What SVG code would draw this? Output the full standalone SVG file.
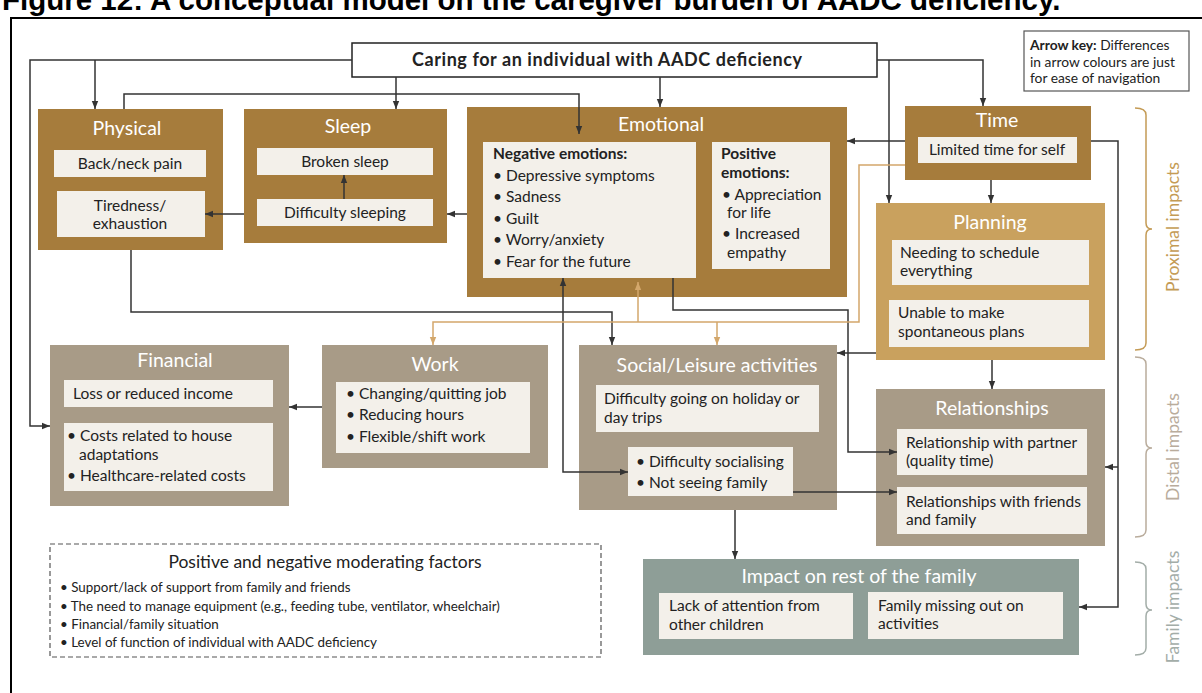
<svg xmlns="http://www.w3.org/2000/svg" width="1202" height="693" viewBox="0 0 1202 693">
<style>
text{font-family:Lato,"Noto Sans","DejaVu Sans",sans-serif}
.bg{fill:#A67C3C}
.bp{fill:#C9A15E}
.bt{fill:#A89B87}
.bf{fill:#8E9E97}
.in{fill:#F3F0EA}
.ttl{font-size:19.5px;fill:#fff;text-anchor:middle}
.tx{font-size:15.5px;fill:#222}
.cx{font-size:15.5px;fill:#222;text-anchor:middle}
.b{font-weight:700}
.c{fill:none;stroke:#333;stroke-width:1.5}
.o{fill:none;stroke:#D3A76B;stroke-width:1.5}
.mod{font-size:13.4px;fill:#222}
.key{font-size:13.8px;fill:#222}
.brace{fill:none;stroke-width:1.5}
</style>
<defs>
<marker id="a" viewBox="0 0 10 10" refX="10" refY="5" markerWidth="8" markerHeight="8" markerUnits="userSpaceOnUse" orient="auto-start-reverse"><path d="M0,1 L10,5 L0,9 z" fill="#333"/></marker>
<marker id="ao" viewBox="0 0 10 10" refX="10" refY="5" markerWidth="8" markerHeight="8" markerUnits="userSpaceOnUse" orient="auto-start-reverse"><path d="M0,1 L10,5 L0,9 z" fill="#D3A76B"/></marker>
</defs>
<rect width="1202" height="693" fill="#fff"/>
<text x="2" y="10" style="font-family:'Liberation Sans',Arial,sans-serif;font-weight:700;font-size:29.5px" fill="#000">Figure 12: A conceptual model on the caregiver burden of AADC deficiency.</text>
<path d="M11,693 V18 H1202" fill="none" stroke="#000" stroke-width="2"/>

<g id="caring">
<rect x="352" y="43" width="525" height="34" fill="#fff" stroke="#222" stroke-width="1.5"/>
<text x="607" y="66" class="b" style="font-size:18px;text-anchor:middle" fill="#222" textLength="390" lengthAdjust="spacing">Caring for an individual with AADC deficiency</text>
</g>

<g id="arrow-key">
<rect x="1024" y="31" width="165" height="60" fill="#fff" stroke="#555" stroke-width="1.2"/>
<text class="key" x="1030" y="50"><tspan class="b">Arrow key:</tspan> Differences</text>
<text class="key" x="1030" y="67">in arrow colours are just</text>
<text class="key" x="1030" y="83">for ease of navigation</text>
</g>

<g id="physical">
<rect class="bg" x="38" y="109" width="185" height="141"/>
<text class="ttl" x="127" y="135">Physical</text>
<rect class="in" x="54" y="150" width="152" height="27"/>
<text class="cx" x="130" y="169">Back/neck pain</text>
<rect class="in" x="57" y="191" width="148" height="46"/>
<text class="cx" x="130" y="211">Tiredness/</text>
<text class="cx" x="130" y="229">exhaustion</text>
</g>

<g id="sleep">
<rect class="bg" x="244" y="109" width="203" height="134"/>
<text class="ttl" x="348" y="133">Sleep</text>
<rect class="in" x="257" y="148" width="176" height="27"/>
<text class="cx" x="345" y="167">Broken sleep</text>
<rect class="in" x="257" y="199" width="176" height="27"/>
<text class="cx" x="345" y="218">Difficulty sleeping</text>
</g>

<g id="emotional">
<rect class="bg" x="467" y="107" width="380" height="190"/>
<text class="ttl" x="661" y="131">Emotional</text>
<rect class="in" x="483" y="142" width="213" height="136"/>
<text class="tx b" x="493" y="159">Negative emotions:</text>
<text class="tx" x="493" y="180.5">• Depressive symptoms</text>
<text class="tx" x="493" y="202">• Sadness</text>
<text class="tx" x="493" y="223.5">• Guilt</text>
<text class="tx" x="493" y="245">• Worry/anxiety</text>
<text class="tx" x="493" y="266.5">• Fear for the future</text>
<rect class="in" x="712" y="142" width="118" height="127"/>
<text class="tx b" x="721" y="159">Positive</text>
<text class="tx b" x="721" y="178">emotions:</text>
<text class="tx" x="722" y="200">• Appreciation</text>
<text class="tx" x="727" y="218">for life</text>
<text class="tx" x="722" y="239">• Increased</text>
<text class="tx" x="727" y="258">empathy</text>
</g>

<g id="time">
<rect class="bg" x="905" y="106" width="186" height="74"/>
<text class="ttl" x="997" y="127">Time</text>
<rect class="in" x="918" y="137" width="159" height="26"/>
<text class="cx" x="997" y="155">Limited time for self</text>
</g>

<g id="planning">
<rect class="bp" x="876" y="203" width="229" height="157"/>
<text class="ttl" x="990" y="229">Planning</text>
<rect class="in" x="892" y="240" width="197" height="45"/>
<text class="tx" x="900" y="258">Needing to schedule</text>
<text class="tx" x="900" y="276">everything</text>
<rect class="in" x="889" y="300" width="200" height="47"/>
<text class="tx" x="898" y="318">Unable to make</text>
<text class="tx" x="898" y="337">spontaneous plans</text>
</g>

<g id="financial">
<rect class="bt" x="50" y="345" width="239" height="161"/>
<text class="ttl" x="175" y="367">Financial</text>
<rect class="in" x="64" y="380" width="209" height="27"/>
<text class="tx" x="73" y="399">Loss or reduced income</text>
<rect class="in" x="64" y="423" width="209" height="68"/>
<text class="tx" x="67" y="441">• Costs related to house</text>
<text class="tx" x="79" y="460">adaptations</text>
<text class="tx" x="67" y="481">• Healthcare-related costs</text>
</g>

<g id="work">
<rect class="bt" x="322" y="345" width="226" height="123"/>
<text class="ttl" x="435" y="371">Work</text>
<rect class="in" x="336" y="382" width="194" height="71"/>
<text class="tx" x="346" y="399">• Changing/quitting job</text>
<text class="tx" x="346" y="420">• Reducing hours</text>
<text class="tx" x="346" y="442">• Flexible/shift work</text>
</g>

<g id="social">
<rect class="bt" x="579" y="345" width="258" height="165"/>
<text class="ttl" x="717" y="372">Social/Leisure activities</text>
<rect class="in" x="596" y="385" width="223" height="47"/>
<text class="tx" x="604" y="404">Difficulty going on holiday or</text>
<text class="tx" x="604" y="423">day trips</text>
<rect class="in" x="628" y="447" width="165" height="49"/>
<text class="tx" x="636" y="467">• Difficulty socialising</text>
<text class="tx" x="636" y="488">• Not seeing family</text>
</g>

<g id="relationships">
<rect class="bt" x="876" y="389" width="229" height="157"/>
<text class="ttl" x="992" y="415">Relationships</text>
<rect class="in" x="897" y="429" width="190" height="46"/>
<text class="tx" x="906" y="448">Relationship with partner</text>
<text class="tx" x="906" y="466">(quality time)</text>
<rect class="in" x="897" y="487" width="190" height="47"/>
<text class="tx" x="906" y="507">Relationships with friends</text>
<text class="tx" x="906" y="525">and family</text>
</g>

<g id="impact-family">
<rect class="bf" x="643" y="559" width="436" height="96"/>
<text class="ttl" x="859" y="583">Impact on rest of the family</text>
<rect class="in" x="659" y="593" width="194" height="46"/>
<text class="tx" x="669" y="611">Lack of attention from</text>
<text class="tx" x="669" y="630">other children</text>
<rect class="in" x="868" y="592" width="195" height="47"/>
<text class="tx" x="878" y="611">Family missing out on</text>
<text class="tx" x="878" y="629">activities</text>
</g>

<g id="moderating">
<rect x="50" y="544" width="551" height="113" fill="none" stroke="#555" stroke-width="1.2" stroke-dasharray="5,3"/>
<text x="325" y="568" style="font-size:17.5px;text-anchor:middle" fill="#222">Positive and negative moderating factors</text>
<text class="mod" x="60" y="592">• Support/lack of support from family and friends</text>
<text class="mod" x="60" y="611">• The need to manage equipment (e.g., feeding tube, ventilator, wheelchair)</text>
<text class="mod" x="60" y="629">• Financial/family situation</text>
<text class="mod" x="60" y="647">• Level of function of individual with AADC deficiency</text>
</g>

<g id="brackets">
<path class="brace" stroke="#C49B55" d="M1135,108 Q1146,108 1146,115 V223 Q1146,229 1152,229 Q1146,229 1146,235 V343 Q1146,350 1135,350"/>
<text x="1179" y="227" transform="rotate(-90 1179 227)" style="font-size:17.5px;text-anchor:middle" fill="#C49B55">Proximal impacts</text>
<path class="brace" stroke="#B9AC9C" d="M1135,357 Q1146,357 1146,364 V442 Q1146,448 1152,448 Q1146,448 1146,454 V530 Q1146,537 1135,537"/>
<text x="1179" y="447" transform="rotate(-90 1179 447)" style="font-size:17.5px;text-anchor:middle" fill="#B9AC9C">Distal impacts</text>
<path class="brace" stroke="#A3ADA8" d="M1135,562 Q1146,562 1146,569 V604 Q1146,610 1152,610 Q1146,610 1146,616 V648 Q1146,655 1135,655"/>
<text x="1179" y="607" transform="rotate(-90 1179 607)" style="font-size:17.5px;text-anchor:middle" fill="#A3ADA8">Family impacts</text>
</g>

<g id="connectors">
<path class="c" d="M352,60 H30 V426 H50" marker-end="url(#a)"/>
<path class="c" d="M95,60 V109" marker-end="url(#a)"/>
<path class="c" d="M396,77 V109" marker-end="url(#a)"/>
<path class="c" d="M124,109 V94 H579 V134" marker-end="url(#a)"/>
<path class="c" d="M660,77 V107" marker-end="url(#a)"/>
<path class="c" d="M877,60 H983 V106" marker-end="url(#a)"/>
<path class="c" d="M889,60 V203" marker-end="url(#a)"/>
<path class="c" d="M905,141 H847" marker-end="url(#a)"/>
<path class="c" d="M991,180 V203" marker-end="url(#a)"/>
<path class="c" d="M1091,141 H1118 V607 H1079" marker-end="url(#a)"/>
<path class="c" d="M1118,467 H1105" marker-end="url(#a)"/>
<path class="c" d="M244,214 H205" marker-end="url(#a)"/>
<path class="c" d="M467,214 H447" marker-end="url(#a)"/>
<path class="c" d="M344,199 V175" marker-end="url(#a)"/>
<path class="c" d="M131,250 V312 H612 V345" marker-end="url(#a)"/>
<path class="c" d="M563,278 V472 H628" marker-start="url(#a)" marker-end="url(#a)"/>
<path class="c" d="M673,278 V310 H848 V452 H897" marker-end="url(#a)"/>
<path class="c" d="M322,407 H289" marker-end="url(#a)"/>
<path class="c" d="M876,353 H837" marker-end="url(#a)"/>
<path class="c" d="M992,360 V389" marker-end="url(#a)"/>
<path class="c" d="M793,492 H897" marker-end="url(#a)"/>
<path class="c" d="M735,510 V559" marker-end="url(#a)"/>
<path class="o" d="M905,165 H859 V322 H433 V345" marker-end="url(#ao)"/>
<path class="o" d="M638,322 V282" marker-end="url(#ao)"/>
<path class="o" d="M717,322 V345" marker-end="url(#ao)"/>
</g>
</svg>
